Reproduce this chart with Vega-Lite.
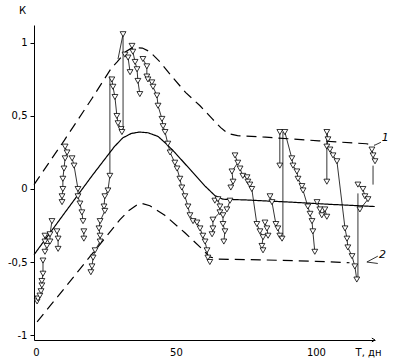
{
  "$schema": "https://vega.github.io/schema/vega-lite/v6.json",
  "width": 341,
  "height": 315,
  "autosize": {"type": "none"},
  "padding": {"left": 34, "top": 25, "right": 25, "bottom": 18},
  "background": "white",
  "config": {
    "view": {"stroke": null},
    "font": "DejaVu Sans",
    "axis": {"domainColor": "black", "tickColor": "black", "labelColor": "black", "titleColor": "black", "grid": false, "labelFontSize": 10, "titleFontSize": 10, "titleFontWeight": "normal", "labelFont": "DejaVu Sans", "titleFont": "DejaVu Sans"}
  },
  "datasets": {
    "curves": [
      {"curve": "1", "t": -0.7, "k": 0.03}, {"curve": "1", "t": 10, "k": 0.33}, {"curve": "1", "t": 20, "k": 0.62}, {"curve": "1", "t": 27, "k": 0.83}, {"curve": "1", "t": 29, "k": 0.87}, {"curve": "1", "t": 32, "k": 0.94}, {"curve": "1", "t": 34.6, "k": 0.97}, {"curve": "1", "t": 38, "k": 0.965}, {"curve": "1", "t": 40.7, "k": 0.94}, {"curve": "1", "t": 44.3, "k": 0.87}, {"curve": "1", "t": 49, "k": 0.76}, {"curve": "1", "t": 53.5, "k": 0.66}, {"curve": "1", "t": 58.6, "k": 0.57}, {"curve": "1", "t": 63, "k": 0.48}, {"curve": "1", "t": 66, "k": 0.42}, {"curve": "1", "t": 68.6, "k": 0.38}, {"curve": "1", "t": 72, "k": 0.365}, {"curve": "1", "t": 82, "k": 0.355}, {"curve": "1", "t": 101, "k": 0.33}, {"curve": "1", "t": 118, "k": 0.31}, {"curve": "1", "t": 121, "k": 0.30},
      {"curve": "mid", "t": -0.7, "k": -0.45}, {"curve": "mid", "t": 10, "k": -0.17}, {"curve": "mid", "t": 20, "k": 0.09}, {"curve": "mid", "t": 28, "k": 0.29}, {"curve": "mid", "t": 31, "k": 0.35}, {"curve": "mid", "t": 34, "k": 0.38}, {"curve": "mid", "t": 37, "k": 0.39}, {"curve": "mid", "t": 40, "k": 0.385}, {"curve": "mid", "t": 43.6, "k": 0.36}, {"curve": "mid", "t": 46.5, "k": 0.31}, {"curve": "mid", "t": 49.6, "k": 0.25}, {"curve": "mid", "t": 55.7, "k": 0.12}, {"curve": "mid", "t": 60.4, "k": 0.02}, {"curve": "mid", "t": 63.9, "k": -0.045}, {"curve": "mid", "t": 66.8, "k": -0.07}, {"curve": "mid", "t": 75, "k": -0.075}, {"curve": "mid", "t": 91, "k": -0.09}, {"curve": "mid", "t": 105, "k": -0.105}, {"curve": "mid", "t": 121, "k": -0.12},
      {"curve": "2", "t": 0.4, "k": -0.91}, {"curve": "2", "t": 11, "k": -0.66}, {"curve": "2", "t": 23, "k": -0.375}, {"curve": "2", "t": 30, "k": -0.21}, {"curve": "2", "t": 33, "k": -0.15}, {"curve": "2", "t": 36.4, "k": -0.105}, {"curve": "2", "t": 38, "k": -0.1}, {"curve": "2", "t": 40.7, "k": -0.115}, {"curve": "2", "t": 46, "k": -0.18}, {"curve": "2", "t": 53.2, "k": -0.3}, {"curve": "2", "t": 59.3, "k": -0.41}, {"curve": "2", "t": 62, "k": -0.465}, {"curve": "2", "t": 65, "k": -0.48}, {"curve": "2", "t": 80, "k": -0.485}, {"curve": "2", "t": 100, "k": -0.495}, {"curve": "2", "t": 112, "k": -0.505}
    ],
    "obs": [
      {"seg": "a", "i": 1, "t": 0.4, "k": -0.77}, {"seg": "a", "i": 2, "t": 0.7, "k": -0.75}, {"seg": "a", "i": 3, "t": 1.4, "k": -0.73}, {"seg": "a", "i": 4, "t": 1.8, "k": -0.7}, {"seg": "a", "i": 5, "t": 2.1, "k": -0.66}, {"seg": "a", "i": 6, "t": 2.1, "k": -0.63}, {"seg": "a", "i": 7, "t": 2.5, "k": -0.58}, {"seg": "a", "i": 8, "t": 2.5, "k": -0.49},
      {"seg": "b", "i": 1, "t": 3.2, "k": -0.32}, {"seg": "b", "i": 2, "t": 3.2, "k": -0.36}, {"seg": "b", "i": 3, "t": 3.9, "k": -0.39}, {"seg": "b", "i": 4, "t": 3.2, "k": -0.43},
      {"seg": "c", "i": 1, "t": 5.7, "k": -0.22}, {"seg": "c", "i": 2, "t": 5.0, "k": -0.31}, {"seg": "c", "i": 3, "t": 5.0, "k": -0.36},
      {"seg": "d", "i": 1, "t": 7.5, "k": -0.29}, {"seg": "d", "i": 2, "t": 7.9, "k": -0.34}, {"seg": "d", "i": 3, "t": 7.9, "k": -0.41},
      {"seg": "e", "i": 1, "t": 10.4, "k": 0.29}, {"seg": "e", "i": 2, "t": 11.1, "k": 0.25}, {"seg": "e", "i": 3, "t": 10.4, "k": 0.21}, {"seg": "e", "i": 4, "t": 10.0, "k": 0.14}, {"seg": "e", "i": 5, "t": 9.6, "k": 0.07}, {"seg": "e", "i": 6, "t": 9.6, "k": 0.0}, {"seg": "e", "i": 7, "t": 9.3, "k": -0.05}, {"seg": "e", "i": 8, "t": 9.3, "k": -0.09},
      {"seg": "f", "i": 1, "t": 12.9, "k": 0.21}, {"seg": "f", "i": 2, "t": 13.6, "k": 0.16}, {"seg": "f", "i": 3, "t": 15.0, "k": 0.0}, {"seg": "f", "i": 4, "t": 15.0, "k": -0.05}, {"seg": "f", "i": 5, "t": 15.7, "k": -0.1}, {"seg": "f", "i": 6, "t": 16.4, "k": -0.16}, {"seg": "f", "i": 7, "t": 16.8, "k": -0.22},
      {"seg": "g", "i": 1, "t": 17.1, "k": -0.29}, {"seg": "g", "i": 2, "t": 17.1, "k": -0.34},
      {"seg": "h", "i": 1, "t": 27.1, "k": 0.75}, {"seg": "h", "i": 2, "t": 27.5, "k": 0.7}, {"seg": "h", "i": 3, "t": 28.2, "k": 0.63}, {"seg": "h", "i": 4, "t": 28.9, "k": 0.5}, {"seg": "h", "i": 5, "t": 29.3, "k": 0.45}, {"seg": "h", "i": 6, "t": 30.4, "k": 0.41}, {"seg": "h", "i": 7, "t": 30.7, "k": 0.39},
      {"seg": "h2", "i": 1, "t": 26.4, "k": 0.09}, {"seg": "h2", "i": 2, "t": 25.7, "k": -0.01}, {"seg": "h2", "i": 3, "t": 24.6, "k": -0.05}, {"seg": "h2", "i": 4, "t": 24.3, "k": -0.12}, {"seg": "h2", "i": 5, "t": 24.6, "k": -0.15}, {"seg": "h2", "i": 6, "t": 22.9, "k": -0.22}, {"seg": "h2", "i": 7, "t": 22.5, "k": -0.27}, {"seg": "h2", "i": 8, "t": 22.9, "k": -0.32}, {"seg": "h2", "i": 9, "t": 22.9, "k": -0.36}, {"seg": "h2", "i": 10, "t": 21.1, "k": -0.42}, {"seg": "h2", "i": 11, "t": 20.4, "k": -0.47}, {"seg": "h2", "i": 12, "t": 20.0, "k": -0.53}, {"seg": "h2", "i": 13, "t": 19.6, "k": -0.57},
      {"seg": "i", "i": 1, "t": 31.1, "k": 1.06},
      {"seg": "j0", "i": 1, "t": 31.8, "k": 0.92}, {"seg": "j0", "i": 2, "t": 32.9, "k": 0.9}, {"seg": "j0", "i": 3, "t": 33.6, "k": 0.8},
      {"seg": "j1", "i": 1, "t": 34.3, "k": 0.98}, {"seg": "j1", "i": 2, "t": 34.6, "k": 0.94}, {"seg": "j1", "i": 3, "t": 35.4, "k": 0.87}, {"seg": "j1", "i": 4, "t": 36.1, "k": 0.82}, {"seg": "j1", "i": 5, "t": 36.4, "k": 0.74}, {"seg": "j1", "i": 6, "t": 37.1, "k": 0.65},
      {"seg": "j2", "i": 1, "t": 38.2, "k": 0.89}, {"seg": "j2", "i": 2, "t": 39.6, "k": 0.84}, {"seg": "j2", "i": 3, "t": 39.6, "k": 0.77}, {"seg": "j2", "i": 4, "t": 40.0, "k": 0.75}, {"seg": "j2", "i": 5, "t": 41.4, "k": 0.73}, {"seg": "j2", "i": 6, "t": 41.8, "k": 0.7}, {"seg": "j2", "i": 7, "t": 43.2, "k": 0.64}, {"seg": "j2", "i": 8, "t": 43.6, "k": 0.57}, {"seg": "j2", "i": 9, "t": 45.0, "k": 0.48}, {"seg": "j2", "i": 10, "t": 45.4, "k": 0.43}, {"seg": "j2", "i": 11, "t": 46.1, "k": 0.39}, {"seg": "j2", "i": 12, "t": 47.1, "k": 0.31}, {"seg": "j2", "i": 13, "t": 47.9, "k": 0.25}, {"seg": "j2", "i": 14, "t": 49.6, "k": 0.18}, {"seg": "j2", "i": 15, "t": 50.4, "k": 0.14}, {"seg": "j2", "i": 16, "t": 51.4, "k": 0.07}, {"seg": "j2", "i": 17, "t": 52.1, "k": 0.01}, {"seg": "j2", "i": 18, "t": 53.2, "k": -0.05}, {"seg": "j2", "i": 19, "t": 54.3, "k": -0.12}, {"seg": "j2", "i": 20, "t": 55.0, "k": -0.18}, {"seg": "j2", "i": 21, "t": 56.1, "k": -0.22}, {"seg": "j2", "i": 22, "t": 57.5, "k": -0.23}, {"seg": "j2", "i": 23, "t": 58.6, "k": -0.27}, {"seg": "j2", "i": 24, "t": 59.6, "k": -0.32}, {"seg": "j2", "i": 25, "t": 60.4, "k": -0.36}, {"seg": "j2", "i": 26, "t": 61.1, "k": -0.42}, {"seg": "j2", "i": 27, "t": 61.4, "k": -0.47}, {"seg": "j2", "i": 28, "t": 62.1, "k": -0.5},
      {"seg": "k", "i": 1, "t": 63.9, "k": -0.08}, {"seg": "k", "i": 2, "t": 65.0, "k": -0.07}, {"seg": "k", "i": 3, "t": 65.7, "k": -0.12}, {"seg": "k", "i": 4, "t": 65.7, "k": -0.16}, {"seg": "k", "i": 5, "t": 63.2, "k": -0.21}, {"seg": "k", "i": 6, "t": 63.2, "k": -0.27}, {"seg": "k", "i": 7, "t": 62.9, "k": -0.31},
      {"seg": "l", "i": 1, "t": 66.8, "k": -0.18}, {"seg": "l", "i": 2, "t": 66.8, "k": -0.24}, {"seg": "l", "i": 3, "t": 67.5, "k": -0.29}, {"seg": "l", "i": 4, "t": 67.1, "k": -0.36},
      {"seg": "l2", "i": 1, "t": 69.3, "k": -0.08}, {"seg": "l2", "i": 2, "t": 68.2, "k": -0.14},
      {"seg": "m", "i": 1, "t": 71.1, "k": 0.23}, {"seg": "m", "i": 2, "t": 72.1, "k": 0.18}, {"seg": "m", "i": 3, "t": 70.0, "k": 0.12}, {"seg": "m", "i": 4, "t": 70.4, "k": 0.05}, {"seg": "m", "i": 5, "t": 69.6, "k": 0.01},
      {"seg": "n", "i": 1, "t": 72.9, "k": 0.14}, {"seg": "n", "i": 2, "t": 73.9, "k": 0.09}, {"seg": "n", "i": 3, "t": 75.4, "k": 0.08}, {"seg": "n", "i": 4, "t": 75.7, "k": 0.05}, {"seg": "n", "i": 5, "t": 76.4, "k": 0.03}, {"seg": "n", "i": 6, "t": 77.1, "k": 0.0}, {"seg": "n", "i": 7, "t": 78.9, "k": -0.24}, {"seg": "n", "i": 8, "t": 80.0, "k": -0.29}, {"seg": "n", "i": 9, "t": 81.1, "k": -0.33}, {"seg": "n", "i": 10, "t": 80.7, "k": -0.39}, {"seg": "n", "i": 11, "t": 81.1, "k": -0.42},
      {"seg": "o2", "i": 1, "t": 81.8, "k": -0.23}, {"seg": "o2", "i": 2, "t": 82.5, "k": -0.27}, {"seg": "o2", "i": 3, "t": 82.9, "k": -0.32},
      {"seg": "p", "i": 1, "t": 83.6, "k": -0.05}, {"seg": "p", "i": 2, "t": 84.3, "k": -0.09}, {"seg": "p", "i": 3, "t": 85.7, "k": -0.24}, {"seg": "p", "i": 4, "t": 86.4, "k": -0.27}, {"seg": "p", "i": 5, "t": 87.1, "k": -0.32}, {"seg": "p", "i": 6, "t": 87.9, "k": -0.34},
      {"seg": "q", "i": 1, "t": 87.1, "k": 0.39}, {"seg": "q", "i": 2, "t": 87.1, "k": 0.16},
      {"seg": "r", "i": 1, "t": 88.9, "k": 0.39}, {"seg": "r", "i": 2, "t": 91.4, "k": 0.21}, {"seg": "r", "i": 3, "t": 91.8, "k": 0.16}, {"seg": "r", "i": 4, "t": 93.2, "k": 0.12}, {"seg": "r", "i": 5, "t": 93.6, "k": 0.07}, {"seg": "r", "i": 6, "t": 95.0, "k": 0.02}, {"seg": "r", "i": 7, "t": 95.4, "k": -0.01}, {"seg": "r", "i": 8, "t": 97.1, "k": -0.12}, {"seg": "r", "i": 9, "t": 97.9, "k": -0.17}, {"seg": "r", "i": 10, "t": 98.6, "k": -0.22}, {"seg": "r", "i": 11, "t": 98.9, "k": -0.29}, {"seg": "r", "i": 12, "t": 99.6, "k": -0.43},
      {"seg": "s", "i": 1, "t": 100.4, "k": -0.09}, {"seg": "s", "i": 2, "t": 101.4, "k": -0.14}, {"seg": "s", "i": 3, "t": 102.1, "k": -0.18}, {"seg": "s", "i": 4, "t": 103.2, "k": -0.14}, {"seg": "s", "i": 5, "t": 103.9, "k": -0.19},
      {"seg": "t", "i": 1, "t": 103.9, "k": 0.39}, {"seg": "t", "i": 2, "t": 104.3, "k": 0.34}, {"seg": "t", "i": 3, "t": 103.9, "k": 0.29}, {"seg": "t", "i": 4, "t": 105.0, "k": 0.27}, {"seg": "t", "i": 5, "t": 106.1, "k": 0.23}, {"seg": "t", "i": 6, "t": 107.5, "k": 0.19}, {"seg": "t", "i": 7, "t": 110.4, "k": -0.27}, {"seg": "t", "i": 8, "t": 111.1, "k": -0.34}, {"seg": "t", "i": 9, "t": 111.4, "k": -0.4}, {"seg": "t", "i": 10, "t": 112.9, "k": -0.46}, {"seg": "t", "i": 11, "t": 113.9, "k": -0.53}, {"seg": "t", "i": 12, "t": 114.6, "k": -0.62},
      {"seg": "t2", "i": 1, "t": 103.9, "k": 0.05},
      {"seg": "u", "i": 1, "t": 115.0, "k": 0.03}, {"seg": "u", "i": 2, "t": 116.8, "k": 0.0}, {"seg": "u", "i": 3, "t": 117.5, "k": -0.05}, {"seg": "u", "i": 4, "t": 118.6, "k": -0.07}, {"seg": "u", "i": 5, "t": 115.7, "k": -0.14},
      {"seg": "v", "i": 1, "t": 120.0, "k": 0.27}, {"seg": "v", "i": 2, "t": 120.4, "k": 0.23}, {"seg": "v", "i": 3, "t": 121.1, "k": 0.19}
    ],
    "jumps": [
      {"seg": "J1", "i": 1, "t": 26.4, "k": 0.77}, {"seg": "J1", "i": 2, "t": 26.4, "k": 0.09},
      {"seg": "J2", "i": 1, "t": 29.3, "k": 0.89}, {"seg": "J2", "i": 2, "t": 31.1, "k": 1.06}, {"seg": "J2", "i": 3, "t": 31.1, "k": 0.89}, {"seg": "J2", "i": 4, "t": 31.1, "k": 0.41},
      {"seg": "J3", "i": 1, "t": 88.2, "k": 0.39}, {"seg": "J3", "i": 2, "t": 88.2, "k": -0.34},
      {"seg": "J4", "i": 1, "t": 103.9, "k": 0.39}, {"seg": "J4", "i": 2, "t": 103.9, "k": 0.05},
      {"seg": "J5", "i": 1, "t": 115.0, "k": -0.03}, {"seg": "J5", "i": 2, "t": 115.0, "k": -0.62},
      {"seg": "J6", "i": 1, "t": 120.4, "k": 0.16}, {"seg": "J6", "i": 2, "t": 120.4, "k": 0.03},
      {"seg": "H1", "i": 1, "t": 121, "k": 0.30}, {"seg": "H1", "i": 2, "t": 123.2, "k": 0.32},
      {"seg": "H2", "i": 1, "t": 122.1, "k": -0.46}, {"seg": "H2", "i": 2, "t": 118.2, "k": -0.5}, {"seg": "H2", "i": 3, "t": 122.1, "k": -0.51}
    ],
    "labels": [
      {"name": "1", "t": 124.8, "k": 0.35},
      {"name": "2", "t": 123.8, "k": -0.45}
    ]
  },
  "encoding": {
    "x": {"field": "t", "type": "quantitative", "scale": {"domain": [-0.71, 121.1], "nice": false, "zero": false},
      "axis": {"values": [0, 50, 100], "ticks": false, "labelPadding": 7, "title": "T, дн", "titleX": 334, "titleY": 12, "titleAlign": "center", "titleBaseline": "middle", "domainWidth": 1}},
    "y": {"field": "k", "type": "quantitative", "scale": {"domain": [-1.034, 1.123], "nice": false, "zero": false},
      "axis": {"values": [-1, -0.5, 0, 0.5, 1], "tickSize": 4, "labelPadding": 3, "labelExpr": "datum.value == 1 ? '1' : datum.value == 0.5 ? '0,5' : datum.value == 0 ? '0' : datum.value == -0.5 ? '-0,5' : '-1'", "title": "К", "titleAngle": 0, "titleX": -12, "titleY": -15, "titleAlign": "center", "titleBaseline": "middle", "domainWidth": 1}}
  },
  "layer": [
    {
      "data": {"name": "curves"},
      "mark": {"type": "line", "color": "black", "strokeWidth": 1.2, "clip": false},
      "encoding": {
        "detail": {"field": "curve"},
        "strokeDash": {"field": "curve", "type": "nominal", "scale": {"domain": ["1", "mid", "2"], "range": [[10, 6], [1, 0], [10, 6]]}, "legend": null}
      }
    },
    {
      "data": {"name": "jumps"},
      "mark": {"type": "line", "color": "black", "strokeWidth": 0.8, "clip": false},
      "encoding": {"detail": {"field": "seg"}, "order": {"field": "i", "type": "quantitative"}}
    },
    {
      "data": {"name": "obs"},
      "mark": {"type": "line", "color": "black", "strokeWidth": 0.8, "clip": false},
      "encoding": {"detail": {"field": "seg"}, "order": {"field": "i", "type": "quantitative"}}
    },
    {
      "data": {"name": "obs"},
      "mark": {"type": "point", "shape": "triangle-down", "filled": true, "fill": "white", "stroke": "black", "strokeWidth": 0.8, "size": 34, "opacity": 1, "fillOpacity": 1, "clip": false},
      "encoding": {}
    },
    {
      "data": {"name": "labels"},
      "mark": {"type": "text", "fontStyle": "italic", "fontSize": 11, "color": "black", "align": "center", "baseline": "middle", "clip": false},
      "encoding": {"text": {"field": "name"}}
    },
    {
      "data": {"values": [{"t": 121.1, "k": -1.034}]},
      "mark": {"type": "point", "shape": "M-1,-0.6L0,0L-1,0.6", "filled": false, "stroke": "black", "strokeWidth": 1, "size": 40, "opacity": 1, "clip": false},
      "encoding": {}
    }
  ]
}
